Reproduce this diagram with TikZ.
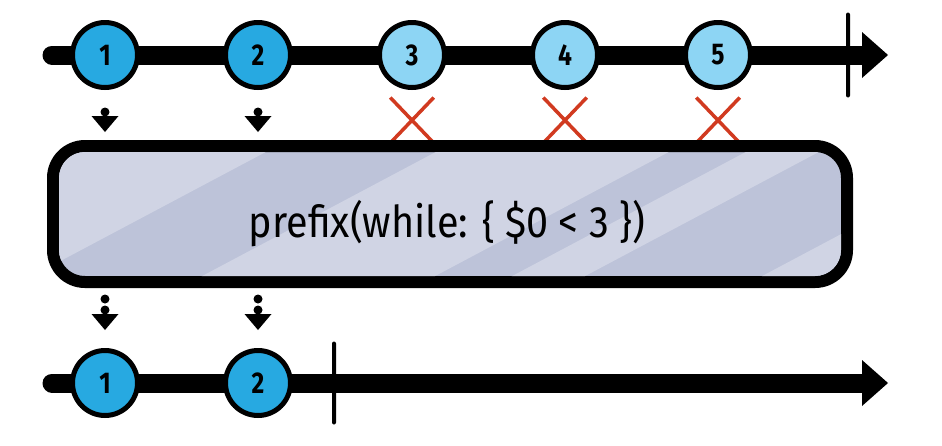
\documentclass[tikz,border=0pt]{standalone}
\usepackage{fontspec}
\setmainfont{Fira Sans}
\newfontfamily\sketchfont[FakeStretch=0.82]{Fira Sans}
\newfontfamily\labelfont[FakeStretch=0.9]{Fira Sans}
\usetikzlibrary{arrows.meta, positioning, shapes.misc}

\definecolor{marbleblue}{HTML}{27A9E1}
\definecolor{marblelight}{HTML}{8DD5F4}
\definecolor{boxfill}{HTML}{BDC3D9}
\definecolor{boxstripe}{HTML}{D0D4E4}
\definecolor{crossred}{HTML}{D13A20}

\begin{document}
\begin{tikzpicture}[
  x=1pt, y=-1pt,
  node distance=7.5pt,
  marble/.style={circle, draw=black, line width=5pt, minimum size=65pt,
                 inner sep=0pt, fill=marbleblue,
                 font=\sketchfont\bfseries\fontsize{30pt}{32pt}\selectfont},
  dropped/.style={marble, fill=marblelight},
  timeline/.style={line width=19pt, line cap=round,
                   -{Triangle[length=26pt, width=46pt, line width=0pt]}},
  endbar/.style={rectangle, fill=black, minimum width=4pt, minimum height=85pt,
                 inner sep=0pt, rounded corners=2pt},
  xmark/.style={cross out, draw=crossred, line width=3.5pt, minimum width=40pt,
                minimum height=42pt, inner sep=0pt},
  flow/.style={line width=9pt, line cap=round, dash pattern=on 0pt off 11pt,
               -{Triangle[length=16pt, width=27pt, line width=0pt]}},
  opbox/.style={rectangle, rounded corners=32pt, draw=black, line width=12pt,
                fill=boxfill, minimum width=794pt, minimum height=136pt,
                inner sep=0pt},
  stripe/.style={fill=boxstripe},
  oplabel/.style={anchor=base, inner sep=0pt,
                  font=\labelfont\fontsize{44pt}{48pt}\selectfont}
]
\useasboundingbox (0,0) rectangle (942,445);

% source stream
\coordinate (s1) at (52,55);
\coordinate (e1) at (888,55);
\draw[timeline] (s1) -- (e1);
\node[endbar] (end1) at (848,55) {};

\node[marble]  (t1) at (105,55) {1};
\node[marble]  (t2) at (258,55) {2};
\node[dropped] (t3) at (412,55) {3};
\node[dropped] (t4) at (565,55) {4};
\node[dropped] (t5) at (718,55) {5};

\node[xmark, below=of t3] (x3) {};
\node[xmark, below=of t4] (x4) {};
\node[xmark, below=of t5] (x5) {};

% operator
\node[opbox] (op) at (450,214) {};
\begin{scope}
  \clip[rounded corners=26pt] ([shift={(12,-12)}]op.south west)
    rectangle ([shift={(-12,12)}]op.north east);
  \fill[stripe] (-20,300) -- (-13,300) -- (326,120) -- (-20,120) -- cycle;
  \fill[stripe] (157,300) -- (390,300) -- (729,120) -- (496,120) -- cycle;
  \fill[stripe] (467,300) -- (540,300) -- (879,120) -- (806,120) -- cycle;
  \fill[stripe] (717,300) -- (1100,300) -- (1100,120) -- (1056,120) -- cycle;
\end{scope}
\node[oplabel] (lbl) at (447,237) {prefix(while: \{ \$0 < 3 \})};

% result stream
\coordinate (s2) at (52,383);
\coordinate (e2) at (888,383);
\draw[timeline] (s2) -- (e2);
\node[endbar, minimum height=83pt] (end2) at (334,383) {};

\node[marble] (b1) at (105,383) {1};
\node[marble] (b2) at (258,383) {2};

\draw[flow, shorten <=22pt, shorten >=8pt] (t1) -- (t1 |- op.north);
\draw[flow, shorten <=22pt, shorten >=8pt] (t2) -- (t2 |- op.north);
\draw[flow, shorten <=11pt, shorten >=18pt] (op.south -| b1) -- (b1);
\draw[flow, shorten <=11pt, shorten >=18pt] (op.south -| b2) -- (b2);
\end{tikzpicture}
\end{document}
